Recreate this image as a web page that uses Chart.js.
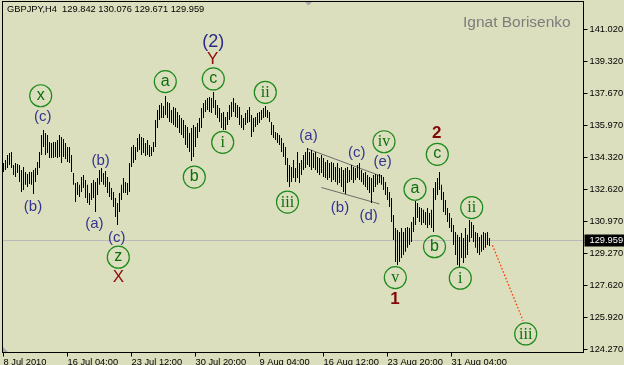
<!DOCTYPE html>
<html>
<head>
<meta charset="utf-8">
<script src="https://cdn.jsdelivr.net/npm/chart.js@4"></script>
<style>
  html, body { margin: 0; padding: 0; background: #dcdfbd; }
  #wrap { width: 624px; height: 365px; position: relative; }
</style>
</head>
<body>
<div id="wrap"><canvas id="chart"></canvas></div>
<script>
// GBPJPY H4, one bar every 4 hours, index 0 = first bar on screen
const symbol = 'GBPJPY,H4';
const lastOHLC = [129.842, 130.076, 129.671, 129.959];

const highs = [
  134.02,134.17,134.44,134.54,134.59,133.91,134.02,133.96,133.91,133.65,133.81,133.55,133.44,133.55,133.55,133.65,133.76,134.07,134.59,135.48,
  135.75,135.59,135.48,135.12,135.06,135.12,135.12,135.22,135.48,135.38,135.27,135.06,134.86,134.86,134.44,133.49,132.97,133.02,132.87,133.28,
  133.39,133.13,132.87,132.45,132.97,133.13,133.02,133.23,133.65,133.76,133.49,133.60,133.28,133.02,132.71,132.50,132.18,131.92,132.45,132.87,
  133.23,133.02,132.97,134.02,134.86,134.96,134.86,135.33,135.54,135.38,135.33,135.06,135.22,134.96,134.86,135.12,136.27,136.79,137.06,137.16,
  137.00,137.53,137.21,137.16,136.79,136.95,136.90,136.69,136.53,136.37,136.27,136.01,135.90,135.59,135.85,136.01,135.90,136.11,136.37,136.90,
  137.16,137.32,137.42,137.47,137.42,137.74,137.32,137.06,136.90,136.64,136.69,136.43,136.69,137.06,137.21,137.42,137.16,137.06,136.95,136.53,
  136.37,136.64,136.79,136.95,136.53,136.37,136.43,136.64,136.69,136.79,136.90,137.00,136.79,136.69,136.16,136.01,135.64,135.59,135.48,135.33,
  135.06,134.86,134.28,133.91,133.81,134.17,133.76,134.59,134.02,134.17,134.44,134.59,134.80,134.59,134.70,134.54,134.59,134.33,134.28,134.44,
  134.28,134.07,134.17,134.02,134.07,134.02,133.81,134.02,133.76,133.81,133.65,133.76,133.81,133.65,133.91,133.81,133.76,133.91,134.02,133.65,
  133.49,133.55,133.39,133.28,133.23,133.39,133.44,133.39,133.44,133.39,133.28,133.02,132.76,132.50,132.18,131.29,130.61,130.51,130.40,130.61,
  130.40,130.61,130.66,130.61,130.93,131.19,132.03,131.92,131.71,131.66,131.56,131.45,131.66,131.40,131.56,132.71,133.02,133.23,133.55,132.87,
  132.50,132.08,131.66,131.40,131.14,130.77,130.40,130.25,130.14,130.35,130.09,130.61,130.25,131.03,130.93,130.77,130.40,130.35,130.14,130.25,
  130.40,130.35,130.40,130.08
];
const lows = [
  133.55,133.65,133.76,133.91,133.76,133.39,133.28,133.49,133.02,132.50,132.60,132.87,132.76,132.92,132.87,132.39,133.02,133.39,133.76,134.44,
  134.86,134.44,134.54,134.28,134.28,134.28,134.33,134.28,134.33,134.02,134.33,134.23,134.07,134.02,133.55,132.87,131.97,132.34,132.24,132.50,
  132.71,132.18,131.92,131.82,132.08,132.18,131.45,132.34,132.87,133.02,132.87,132.76,132.45,132.24,132.08,131.71,131.19,130.77,131.45,132.08,
  132.45,132.45,132.34,132.50,133.81,134.02,134.17,134.59,134.70,134.44,134.54,134.38,134.44,134.33,134.38,134.59,134.86,135.85,136.27,136.37,
  136.37,136.53,136.37,136.16,136.11,136.01,135.90,135.85,135.59,135.48,135.33,134.96,134.80,134.59,134.12,134.33,134.86,135.33,135.64,135.85,
  136.37,136.69,136.79,136.69,136.64,136.90,136.53,136.37,136.16,135.85,135.75,135.75,136.01,136.27,136.43,136.69,136.43,136.37,136.01,135.85,
  135.75,136.01,136.11,136.16,135.38,135.64,135.90,136.01,136.11,136.27,136.37,136.43,136.37,136.16,135.48,135.33,135.22,135.06,134.96,134.59,
  134.33,133.91,133.02,132.76,133.02,133.23,133.02,133.23,132.97,133.39,133.65,133.76,133.91,133.81,133.65,133.76,133.65,133.49,133.39,133.49,
  133.28,133.23,133.13,133.23,133.02,133.13,133.02,132.87,132.97,132.76,132.50,132.39,132.97,133.02,133.13,132.97,133.13,133.23,133.13,133.02,
  132.87,132.76,132.60,132.45,131.92,132.50,132.76,132.87,132.97,132.87,132.60,132.34,132.08,131.71,130.93,129.98,128.83,128.67,128.83,129.04,
  129.20,129.36,129.57,129.72,129.88,130.40,130.77,131.14,130.93,130.77,130.87,130.77,130.61,130.77,130.61,130.40,132.08,132.34,132.60,132.08,
  131.45,131.29,130.93,130.61,130.40,129.72,129.20,128.67,128.57,129.04,128.78,129.04,129.20,129.88,130.09,129.88,129.57,129.30,129.20,129.36,
  129.46,129.57,129.72,129.67
];

const dateIdx = [0, 32, 64, 96, 128, 160, 192, 224];
const dateLabels = ['8 Jul 2010', '16 Jul 04:00', '23 Jul 12:00', '30 Jul 20:00', '9 Aug 04:00', '16 Aug 12:00', '23 Aug 20:00', '31 Aug 04:00'];
const priceTicks = [141.02, 139.32, 137.67, 135.97, 134.32, 132.62, 130.97, 129.27, 127.62, 125.92, 124.27];

// triangle (a)-(e) and the forecast leg, as [bar index, price]
const triUpper = [[151.75, 134.77], [189.25, 133.31]];
const triLower = [[159, 132.73], [188, 131.87]];
const forecast = [[244.5, 129.70], [259.8, 125.75]];

// wave marks
const waveText  = ['x','(c)','(b)','(b)','(a)','(c)','z','X','a','(2)','Y','c','i','b','ii','iii','(a)','(c)','iv','(e)','(b)','(d)','v','1','2','c','a','b','ii','i','iii'];
const waveX     = [18.6,19.6,14.75,48.6,45.4,56.6,57.4,57.4,80.9,104.9,104.6,104.9,109.6,95.4,130.9,142,152.5,176.6,190.25,189.6,168.25,182.6,195.9,195.75,216.6,216.9,205.75,215.5,234.1,228.4,261.1];
const wavePrice = [137.54,136.41,131.71,134.14,130.82,130.11,129.08,128.03,138.28,140.37,139.45,138.42,135.10,133.28,137.72,131.97,135.45,134.56,135.13,134.07,131.68,131.24,128.01,126.88,135.57,134.47,132.64,129.63,131.68,127.98,125.06];
const waveKind  = ['circle','minor','minor','minor','minor','minor','circle','major','circle','inter','major','circle','circle','circle','circle','circle','minor','minor','circle','minor','minor','minor','circle','primary','primary','circle','circle','circle','circle','circle','circle'];

Chart.defaults.font.family = 'Liberation Sans';

const styles = {
  minor: { color: '#34348e', font: '15px "Liberation Sans"' },
  inter: { color: '#2a2a88', font: '18px "Liberation Sans"' },
  major: { color: '#8c0c0c', font: '17px "Liberation Sans"' },
  primary: { color: '#820808', font: 'bold 17px "Liberation Sans"' }
};

const overlay = {
  id: 'overlay',
  beforeDatasetsDraw(chart) {
    const { ctx, chartArea: a, scales: { y } } = chart;
    const py = Math.floor(y.getPixelForValue(lastOHLC[3])) + 0.5;
    ctx.save();
    ctx.strokeStyle = '#b9b9b9';
    ctx.lineWidth = 1;
    ctx.beginPath();
    ctx.moveTo(a.left, py);
    ctx.lineTo(a.right, py);
    ctx.stroke();
    ctx.restore();
  },
  afterDatasetsDraw(chart) {
    const { ctx, scales: { x, y } } = chart;
    ctx.save();
    ctx.textAlign = 'center';
    ctx.textBaseline = 'middle';
    for (let k = 0; k < waveText.length; k++) {
      const px = x.getPixelForValue(waveX[k]);
      const py = y.getPixelForValue(wavePrice[k]);
      const t = waveText[k];
      if (waveKind[k] === 'circle') {
        ctx.strokeStyle = '#1b8a1b';
        ctx.lineWidth = 1.2;
        ctx.beginPath();
        ctx.arc(px, py, 11, 0, Math.PI * 2);
        ctx.stroke();
        ctx.fillStyle = '#0b6e0b';
        if (/^[iv]+$/.test(t)) {
          ctx.font = '16px "Liberation Serif"';
          ctx.fillText(t, px, py + 0.5);
        } else {
          ctx.font = '16px "Liberation Sans"';
          ctx.fillText(t, px, py - 0.5);
        }
      } else {
        const s = styles[waveKind[k]];
        ctx.fillStyle = s.color;
        ctx.font = s.font;
        ctx.fillText(t, px, py);
      }
    }
    ctx.restore();
  },
  afterDraw(chart) {
    const { ctx, chartArea: a, scales: { y } } = chart;
    ctx.save();
    // frame
    ctx.strokeStyle = '#000';
    ctx.lineWidth = 1;
    ctx.strokeRect(a.left, a.top, a.right - a.left, a.bottom - a.top);
    // shift markers
    ctx.fillStyle = '#a8a8a8';
    ctx.beginPath();
    ctx.moveTo(305, 2); ctx.lineTo(312, 2); ctx.lineTo(308.5, 5.5); ctx.closePath(); ctx.fill();
    ctx.beginPath();
    ctx.moveTo(3, 347); ctx.lineTo(3, 352); ctx.lineTo(8, 352); ctx.closePath(); ctx.fill();
    // current price box
    const py = Math.floor(y.getPixelForValue(lastOHLC[3])) + 0.5;
    ctx.fillStyle = '#000';
    ctx.fillRect(a.right + 1, py - 6, 624 - a.right - 1, 12);
    ctx.fillStyle = '#fff';
    ctx.font = '9.3px "Liberation Sans"';
    ctx.textAlign = 'left';
    ctx.textBaseline = 'middle';
    ctx.fillText(lastOHLC[3].toFixed(3), a.right + 6, py);
    // header
    ctx.fillStyle = '#000';
    ctx.fillText(symbol + '  ' + lastOHLC.map(v => v.toFixed(3)).join(' '), 7, 9);
    // author
    ctx.fillStyle = '#7c7c7c';
    ctx.font = '15.5px "Liberation Sans"';
    ctx.textBaseline = 'alphabetic';
    ctx.fillText('Ignat Borisenko', 463, 27);
    ctx.restore();
  }
};

const pts = arr => arr.map(p => ({ x: p[0], y: p[1] }));

new Chart(document.getElementById('chart'), {
  type: 'bar',
  data: {
    datasets: [
      {
        type: 'bar',
        data: highs.map((h, i) => ({ x: i, y: [lows[i], h] })),
        backgroundColor: '#000',
        borderWidth: 0,
        barThickness: 1,
        inflateAmount: 0,
        grouped: false
      },
      { type: 'line', data: pts(triUpper), borderColor: '#6c6c6c', borderWidth: 1, pointRadius: 0, fill: false },
      { type: 'line', data: pts(triLower), borderColor: '#6c6c6c', borderWidth: 1, pointRadius: 0, fill: false },
      { type: 'line', data: pts(forecast), borderColor: '#ff3a00', borderWidth: 1.3, borderDash: [1.5, 2], pointRadius: 0, fill: false }
    ]
  },
  options: {
    responsive: true,
    maintainAspectRatio: false,
    animation: false,
    events: [],
    layout: { padding: { left: 2.5, top: 1.5, right: 0, bottom: 0 } },
    plugins: { legend: { display: false }, tooltip: { enabled: false } },
    scales: {
      x: {
        type: 'linear',
        min: -0.5,
        max: 290,
        offset: false,
        grid: { display: true, drawOnChartArea: false, drawTicks: true, tickLength: 4, tickColor: '#000', color: '#000', offset: false },
        border: { display: true, color: '#000' },
        afterBuildTicks: s => { s.ticks = dateIdx.map(v => ({ value: v })); },
        afterFit: s => { s.height = 12.5; s.paddingLeft = 0; s.paddingRight = 0; },
        ticks: {
          autoSkip: false, maxRotation: 0, minRotation: 0, align: 'start', padding: 0,
          color: '#000', font: { size: 9.3 },
          callback: (v, i) => dateLabels[i]
        }
      },
      y: {
        type: 'linear',
        position: 'right',
        min: 124.087,
        max: 142.477,
        grid: { display: true, drawOnChartArea: false, drawTicks: true, tickLength: 4, tickColor: '#000', color: '#000' },
        border: { display: true, color: '#000' },
        afterBuildTicks: s => { s.ticks = priceTicks.map(v => ({ value: v })); },
        afterFit: s => { s.width = 40.5; s.paddingTop = 0; s.paddingBottom = 0; },
        ticks: {
          padding: 2, color: '#000', font: { size: 9.3 },
          callback: v => v.toFixed(3)
        }
      }
    }
  },
  plugins: [overlay]
});
</script>
</body>
</html>
